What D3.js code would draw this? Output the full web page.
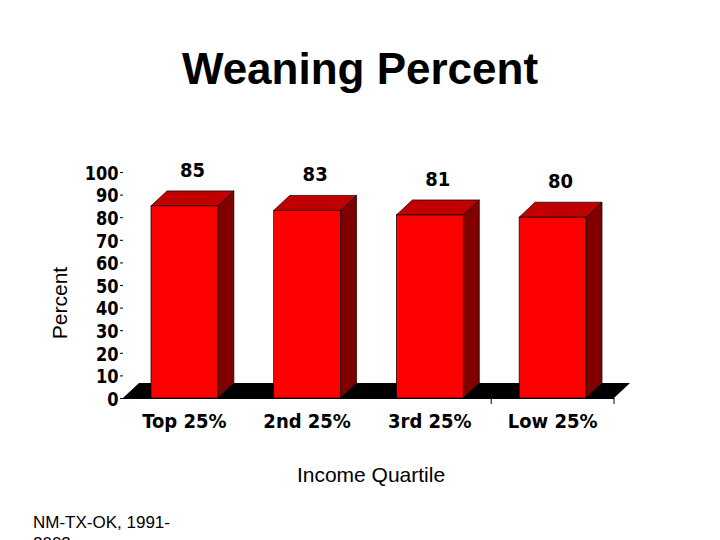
<!DOCTYPE html><html><head><meta charset="utf-8"><script src="https://cdn.jsdelivr.net/npm/d3@7"></script>
<style>body{margin:0;background:#fff}svg{display:block}</style></head><body><script>
const categories=["Top 25%","2nd 25%","3rd 25%","Low 25%"];
const values=[85,83,81,80];
const yTicks=[0,10,20,30,40,50,60,70,80,90,100];
const W=720,H=540;
const svg=d3.select("body").append("svg").attr("width",W).attr("height",H);
const x=d3.scaleBand().domain(categories).range([123,614]).paddingInner(0.455).paddingOuter(0.228);
const y=d3.scaleLinear().domain([0,100]).range([398,172]);
const dx=16,dy=15;
const cond="'DejaVu Sans Condensed','Liberation Sans Narrow',sans-serif";
svg.append("text").attr("x",360).attr("y",84).attr("text-anchor","middle").attr("font-family","Liberation Sans,Arial,sans-serif").attr("font-weight","bold").attr("font-size",44).text("Weaning Percent");
svg.append("path").attr("d",`M123,${y(0)}L${123+dx},${y(0)-dy}L${614+dx},${y(0)-dy}L614,${y(0)}Z`).attr("fill","#000");
svg.append("line").attr("x1",123).attr("x2",614).attr("y1",y(0)+0.5).attr("y2",y(0)+0.5).attr("stroke","#000");
const ax=svg.append("g").attr("transform","translate(123,0)").call(d3.axisLeft(y).tickValues(yTicks).tickSize(3).tickPadding(2));
ax.select(".domain").remove();
ax.selectAll("text").attr("font-family",cond).attr("font-weight","bold").attr("font-size",20).attr("dy","0.36em").attr("transform","scale(0.9,1)");
[x("3rd 25%")+x.bandwidth()+(x.step()-x.bandwidth())/2, 614].forEach(v=>svg.append("line").attr("x1",v).attr("x2",v).attr("y1",y(0)).attr("y2",y(0)+6).attr("stroke","#000"));
const g=svg.append("g").selectAll("g").data(values).join("g");
g.append("path").attr("d",(d,i)=>{const x0=x(categories[i])+x.bandwidth(),t=y(d);return `M${x0},${t}L${x0+dx},${t-dy}L${x0+dx},${y(0)-dy}L${x0},${y(0)}Z`}).attr("fill","#800000").attr("stroke","#000").attr("stroke-width",0.7);
g.append("path").attr("d",(d,i)=>{const x0=x(categories[i]),x1=x0+x.bandwidth(),t=y(d);return `M${x0},${t}L${x0+dx},${t-dy}L${x1+dx},${t-dy}L${x1},${t}Z`}).attr("fill","#c00000").attr("stroke","#000").attr("stroke-width",0.7);
g.append("rect").attr("x",(d,i)=>x(categories[i])).attr("y",d=>y(d)).attr("width",x.bandwidth()).attr("height",d=>y(0)-y(d)).attr("fill","#ff0000").attr("stroke","#000").attr("stroke-width",0.7);
g.append("text").attr("x",(d,i)=>x(categories[i])+x.bandwidth()/2+dx/2).attr("y",d=>y(d)-dy-14).attr("text-anchor","middle").attr("font-family",cond).attr("font-weight","bold").attr("font-size",20).text(d=>d);
svg.append("g").selectAll("text").data(categories).join("text").attr("x",d=>x(d)+x.bandwidth()/2).attr("y",428).attr("text-anchor","middle").attr("font-family",cond).attr("font-weight","bold").attr("font-size",20).text(d=>d);
svg.append("text").attr("transform","translate(67,303) rotate(-90)").attr("text-anchor","middle").attr("font-family","Liberation Sans,Arial,sans-serif").attr("font-size",21).text("Percent");
svg.append("text").attr("x",371).attr("y",482).attr("text-anchor","middle").attr("font-family","Liberation Sans,Arial,sans-serif").attr("font-size",21).text("Income Quartile");
svg.append("text").attr("x",33).attr("y",528).attr("font-family","Liberation Sans,Arial,sans-serif").attr("font-size",17).text("NM-TX-OK, 1991-");
svg.append("text").attr("x",33).attr("y",549).attr("font-family","Liberation Sans,Arial,sans-serif").attr("font-size",17).text("2002");
</script></body></html>
